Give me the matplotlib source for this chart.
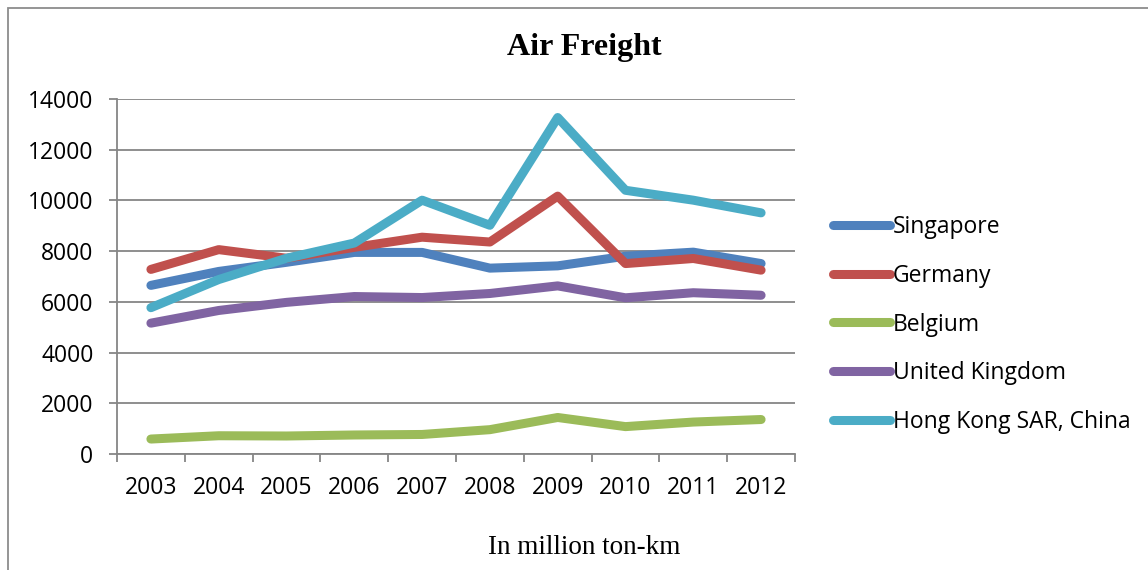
import matplotlib
matplotlib.use("Agg")
import matplotlib.pyplot as plt
from matplotlib.patches import Rectangle
import numpy as np

years = ["2003", "2004", "2005", "2006", "2007", "2008", "2009", "2010", "2011", "2012"]
singapore = [6650, 7200, 7560, 7950, 7950, 7330, 7420, 7800, 7960, 7510]
germany = [7280, 8060, 7720, 8150, 8550, 8360, 10170, 7510, 7710, 7250]
belgium = [590, 720, 710, 750, 770, 960, 1440, 1080, 1260, 1360]
uk = [5160, 5660, 5980, 6210, 6170, 6330, 6630, 6160, 6360, 6260]
hongkong = [5770, 6880, 7720, 8320, 10010, 9020, 13270, 10400, 10010, 9510]
series_names = ["Singapore", "Germany", "Belgium", "United Kingdom", "Hong Kong SAR, China"]
yticks = [0, 2000, 4000, 6000, 8000, 10000, 12000, 14000]

colors = ["#4F81BD", "#C0504D", "#9BBB59", "#8064A2", "#4BACC6"]
W, H = 1148, 570
fig = plt.figure(figsize=(W / 100, H / 100), dpi=100)
ax = fig.add_axes([117 / W, 1 - 454 / H, (795 - 117) / W, (454 - 99) / H])

x = np.arange(len(years))
for vals, name, c in zip([singapore, germany, belgium, uk, hongkong], series_names, colors):
    ax.plot(x, vals, color=c, lw=6.5, solid_capstyle="round", solid_joinstyle="round", label=name)

grid_c = "#868686"
ax.set_xlim(-0.5, len(years) - 0.5)
ax.set_ylim(0, 14000)
ax.set_yticks(yticks)
ax.set_yticklabels([str(v) for v in yticks])
ax.yaxis.grid(True, color=grid_c, lw=1.3)
ax.set_axisbelow(True)
for s in ["top", "right"]:
    ax.spines[s].set_visible(False)
for s in ["left", "bottom"]:
    ax.spines[s].set_color(grid_c)
    ax.spines[s].set_linewidth(1.3)

ax.set_xticks(x)
ax.set_xticklabels(years)
ax.set_xticks(np.arange(-0.5, len(years), 1.0), minor=True)
ax.tick_params(axis="x", which="major", length=0, pad=16)
ax.tick_params(axis="x", which="minor", length=6, width=1.3, color=grid_c)
ax.tick_params(axis="y", length=6, width=1.3, color=grid_c, pad=11)
for lab in ax.get_xticklabels() + ax.get_yticklabels():
    lab.set_fontfamily("Open Sans")
    lab.set_fontsize(16.5)

fig.text(584 / W, 1 - 48 / H, "Air Freight", ha="center", va="center",
         fontfamily="Liberation Serif", fontweight="bold", fontsize=23)
fig.text(584 / W, 1 - 548 / H, "In million ton-km", ha="center", va="center",
         fontfamily="Liberation Serif", fontsize=19.5)

leg = fig.legend(loc="upper left", bbox_to_anchor=(833 / W, 1 - 215 / H), frameon=False,
                 prop={"family": "Open Sans", "size": 16.5}, handlelength=2.5,
                 handletextpad=0.12, labelspacing=1.08, borderaxespad=0, borderpad=0)

fig.add_artist(Rectangle((8 / W, -0.05), 1.0, 1 - 8 / H + 0.05, transform=fig.transFigure,
                         fill=False, edgecolor="#8c8c8c", lw=1.3))

fig.savefig("out.png", dpi=100)
